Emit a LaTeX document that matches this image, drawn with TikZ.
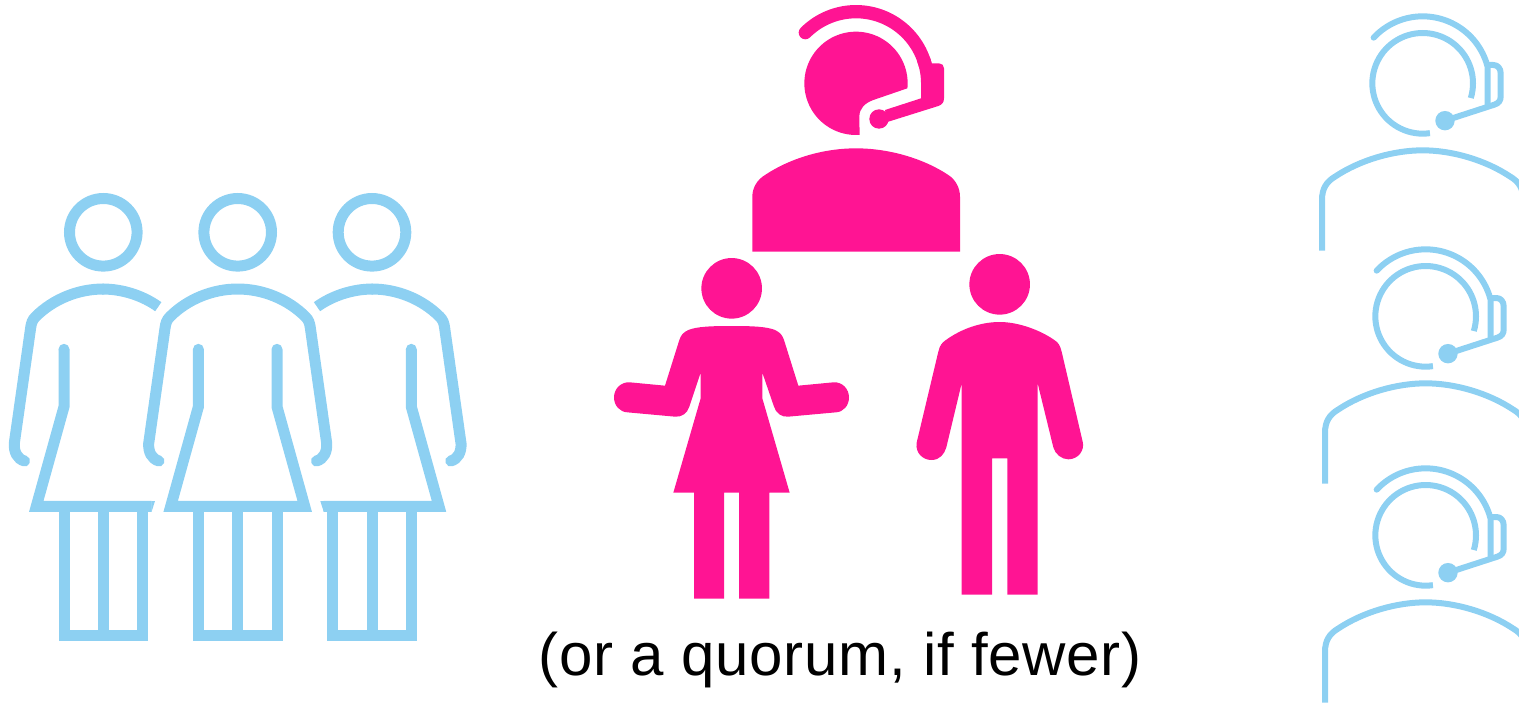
\documentclass[tikz,border=0pt]{standalone}
\usepackage{fontspec}
\setmainfont[LetterSpace=1.2]{Liberation Sans}
\definecolor{skyb}{HTML}{8DD0F2}
\definecolor{hotp}{HTML}{FF1493}
\tikzset{
  zoomA/.style={shift={(#1)},x=0.33333pt,y=-0.33333pt},
  bl/.style={draw=skyb,line width=11pt,line join=miter,miter limit=20},
  blh/.style={draw=skyb,line width=6pt}
}
\newcommand{\womanhead}{\draw[bl] (0,232.3) circle[radius=33.8pt];
  \draw[bl] (-39.3,506.3) -- (-39.3,635) -- (39.3,635) -- (39.3,506.3);
  \draw[bl] (0,506.3) -- (0,635);}
\newcommand{\partwoman}{\womanhead
  \draw[bl,line cap=round] (-78.7,461) .. controls (-86,459) and (-89.5,452) .. (-89,443.3) -- (-72.7,328.3) .. controls (-72,323) and (-71,320) .. (-67.7,316.7) .. controls (-50,299) and (-25,289) .. (0,289);
  \draw[bl,line cap=butt] (-1,289) .. controls (20,289) and (40,296) .. (55,306.7);
  \draw[bl,line cap=butt] (-39.3,349.3) -- (-39.3,406.7) -- (-67,506.3) -- (48.3,506.3);
  \fill[skyb] (-39.3,349.3) circle[radius=5.5pt];
  \fill[skyb] (48,501) -- (51.7,501) -- (48.3,511.7) -- (48,511.7) -- cycle;}
\newcommand{\bluehs}{
  \draw[blh] plot[domain=81.7:377,samples=70] ({338+151*cos(\x)},{250+151*sin(\x)});
  \draw[blh,line cap=round] plot[domain=223:346,samples=50] ({338+201*cos(\x)},{250+201*sin(\x)}) -- (533,315);
  \fill[skyb] (405,362) circle[radius=9.7pt];
  \draw[blh,line join=round] (405,362) -- (553,314) .. controls (566,310) and (572,302) .. (572,290) -- (572,220) .. controls (572,205) and (563,195) .. (550,195) -- (533,195);
  \draw[blh] (36,752) -- (36,600) .. controls (36,565) and (50,545) .. (75,530) .. controls (150,480) and (250,451) .. (338,451) .. controls (426,451) and (526,480) .. (601,530) .. controls (626,545) and (640,565) .. (640,600);}
\begin{document}
\begin{tikzpicture}[x=1pt,y=-1pt]
\useasboundingbox (0,0) rectangle (1519,704);
\clip (0,0) rectangle (1519,704);
% blue women
\begin{scope}[shift={(103.3,0)}] \partwoman \end{scope}
\begin{scope}[shift={(372,0)},xscale=-1] \partwoman \end{scope}
\begin{scope}[shift={(237.7,0)}]
  \womanhead
  \draw[bl,line cap=round] (-78.7,461) .. controls (-86,459) and (-89.5,452) .. (-89,443.3) -- (-72.7,328.3) .. controls (-72,323) and (-71,320) .. (-67.7,316.7) .. controls (-50,299) and (-25,289) .. (0,289) .. controls (25,289) and (50,299) .. (67.7,316.7) .. controls (71,320) and (72,323) .. (72.7,328.3) -- (89,443.3) .. controls (89.5,452) and (86,459) .. (78.7,461);
  \draw[bl,line cap=round] (-39.3,349.3) -- (-39.3,406.7) -- (-67,506.3) -- (67,506.3) -- (39.3,406.7) -- (39.3,349.3);
\end{scope}
% pink headset person
\begin{scope}[zoomA={740,0}]
  \fill[hotp] (37,755) -- (37,590) .. controls (37,565) and (50,540) .. (75,525) .. controls (150,475) and (250,445) .. (348,445) .. controls (446,445) and (550,475) .. (625,525) .. controls (648,540) and (660,565) .. (660,590) -- (660,755) -- cycle;
  \fill[hotp] plot[domain=86:365.5,samples=80] ({348+155*cos(\x)},{250+155*sin(\x)}) -- (400,300) .. controls (375,309) and (358,325) .. (358,350) -- cycle;
  \draw[hotp,line width=13.3pt,line cap=round] plot[domain=225:345,samples=50] ({348+215*cos(\x)},{250+215*sin(\x)});
  \draw[hotp,line width=13.3pt] plot[domain=340:360,samples=10] ({348+215*cos(\x)},{250+215*sin(\x)});
  \fill[hotp] (575,190) -- (597,190) .. controls (606,190) and (612,196) .. (612,205) -- (612,295) .. controls (612,307) and (606,314) .. (595,318) -- (442,366) -- (435,330) -- (543,295) -- (543,250) -- (570,200) -- cycle;
  \fill[hotp] (417,357) circle[radius=9.7pt];
\end{scope}
% pink woman and man
\begin{scope}[zoomA={600,250}]
  \fill[hotp] (395,115) circle[radius=30.3pt];
  \fill[hotp] (1199,103) circle[radius=30.3pt];
  \fill[hotp] (395,228) .. controls (330,228) and (290,230) .. (265,240) .. controls (250,247) and (243,255) .. (238,270) -- (195,407) -- (90,397) .. controls (62,395) and (42,417) .. (42,442) .. controls (42,467) and (60,486) .. (82,487) -- (225,500) .. controls (245,502) and (262,490) .. (268,470) -- (302,368) -- (302,445) -- (220,728) -- (282,728) -- (282,1046) -- (372,1046) -- (372,728) -- (417,728) -- (417,1046) -- (508,1046) -- (508,728) -- (569,728) -- (487,445) -- (487,368) -- (522,470) .. controls (528,490) and (545,502) .. (565,500) -- (708,487) .. controls (730,486) and (747,467) .. (747,442) .. controls (747,417) and (727,395) .. (700,397) -- (595,407) -- (552,270) .. controls (547,255) and (540,247) .. (525,240) .. controls (500,230) and (460,228) .. (395,228) -- cycle;
  \fill[hotp] (1199,216) .. controls (1145,216) and (1085,235) .. (1035,272) .. controls (1025,280) and (1020,285) .. (1015,305) -- (950,578) .. controls (945,610) and (970,630) .. (994,630) .. controls (1020,630) and (1033,612) .. (1039,592) -- (1085,400) -- (1085,1034) -- (1176,1034) -- (1176,625) -- (1222,625) -- (1222,1034) -- (1313,1034) -- (1313,400) -- (1360,592) .. controls (1365,612) and (1385,628) .. (1405,628) .. controls (1435,628) and (1455,600) .. (1448,575) -- (1385,305) .. controls (1380,285) and (1375,278) .. (1363,270) .. controls (1320,240) and (1255,216) .. (1199,216) -- cycle;
\end{scope}
% blue headset people
\begin{scope}[zoomA={1310,0}] \bluehs \end{scope}
\begin{scope}[zoomA={1313,233}] \bluehs \end{scope}
\begin{scope}[zoomA={1313,452}] \bluehs \end{scope}
\node[inner sep=0pt,anchor=base,font=\fontsize{60}{62}\selectfont] (quorum) at (840,675) {(or a quorum, if fewer)};
\end{tikzpicture}
\end{document}
